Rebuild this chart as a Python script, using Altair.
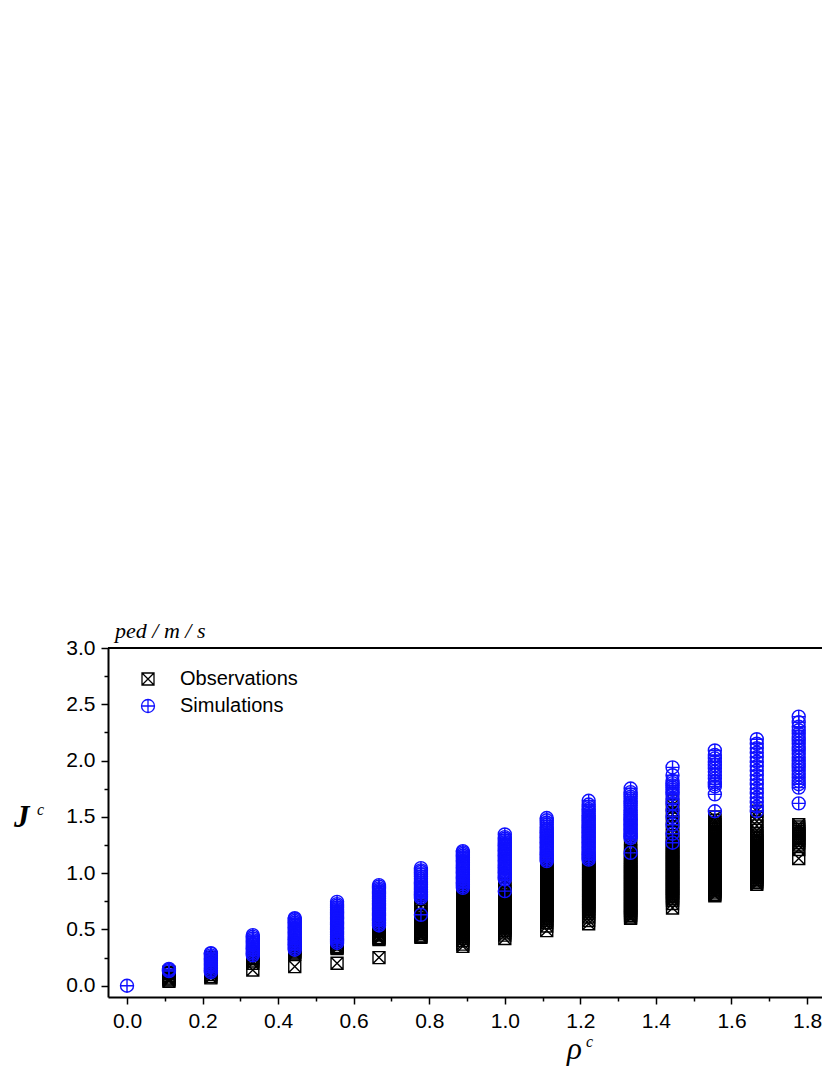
import altair as alt
import pandas as pd

# ---------------- data ----------------
rho = [0.0, 0.111, 0.222, 0.333, 0.444, 0.556, 0.667, 0.778, 0.889,
       1.0, 1.111, 1.222, 1.333, 1.444, 1.556, 1.667, 1.778]

obs_values = [
    [],
    [0.04, 0.05, 0.06, 0.07, 0.09, 0.11, 0.12],
    [0.07, 0.08, 0.10, 0.12, 0.14, 0.17, 0.20, 0.23, 0.25],
    [0.14, 0.20, 0.22, 0.24, 0.25, 0.27, 0.28, 0.30],
    [0.17, 0.28, 0.29, 0.30, 0.31, 0.33, 0.35, 0.38],
    [0.20, 0.33, 0.34, 0.35, 0.37, 0.40, 0.44, 0.48],
    [0.25, 0.41, 0.42, 0.43, 0.45, 0.46, 0.48, 0.49, 0.51, 0.52, 0.54, 0.57, 0.60],
    [0.43, 0.44, 0.45, 0.465, 0.48, 0.495, 0.51, 0.525, 0.54, 0.555, 0.57, 0.585, 0.60,
     0.615, 0.63, 0.66, 0.70, 0.74, 0.78],
    [0.35, 0.37, 0.40, 0.42, 0.435, 0.45, 0.465, 0.48, 0.495, 0.51, 0.525, 0.54, 0.555,
     0.57, 0.585, 0.60, 0.615, 0.63, 0.645, 0.66, 0.675, 0.69, 0.705, 0.72, 0.735, 0.75,
     0.765, 0.78, 0.795, 0.81, 0.825, 0.84, 0.855, 0.87, 0.90],
    [0.42, 0.45, 0.47, 0.49, 0.505, 0.52, 0.535, 0.55, 0.565, 0.58, 0.595, 0.61, 0.625,
     0.64, 0.655, 0.67, 0.685, 0.70, 0.715, 0.73, 0.745, 0.76, 0.775, 0.79, 0.805, 0.82,
     0.835, 0.86, 0.90, 0.94],
    [0.49, 0.53, 0.56, 0.58, 0.595, 0.61, 0.625, 0.64, 0.655, 0.67, 0.685, 0.70, 0.715,
     0.73, 0.745, 0.76, 0.775, 0.79, 0.805, 0.82, 0.835, 0.85, 0.865, 0.88, 0.895, 0.91,
     0.925, 0.94, 0.955, 0.97, 0.985, 1.00, 1.015, 1.03, 1.045, 1.06, 1.08, 1.10],
    [0.55, 0.58, 0.61, 0.64, 0.66, 0.675, 0.69, 0.705, 0.72, 0.735, 0.75, 0.765, 0.78,
     0.795, 0.81, 0.825, 0.84, 0.855, 0.87, 0.885, 0.90, 0.915, 0.93, 0.945, 0.96, 0.975,
     0.99, 1.005, 1.02, 1.035, 1.05, 1.065, 1.08, 1.095, 1.11, 1.13],
    [0.60, 0.61, 0.625, 0.64, 0.655, 0.67, 0.685, 0.70, 0.715, 0.73, 0.745, 0.76, 0.775,
     0.79, 0.805, 0.82, 0.835, 0.85, 0.865, 0.88, 0.895, 0.91, 0.925, 0.94, 0.955, 0.97,
     0.985, 1.00, 1.015, 1.03, 1.045, 1.06, 1.075, 1.09, 1.105, 1.12, 1.14, 1.16, 1.18,
     1.20, 1.25, 1.30],
    [0.69, 0.73, 0.76, 0.775, 0.79, 0.805, 0.82, 0.835, 0.85, 0.865, 0.88, 0.895, 0.91,
     0.925, 0.94, 0.955, 0.97, 0.985, 1.00, 1.015, 1.03, 1.045, 1.06, 1.075, 1.09, 1.105,
     1.12, 1.135, 1.15, 1.165, 1.18, 1.195, 1.21, 1.225, 1.24, 1.26, 1.28, 1.30, 1.33,
     1.36, 1.40, 1.44, 1.48, 1.52, 1.56, 1.60, 1.64],
    [0.80, 0.81, 0.825, 0.84, 0.855, 0.87, 0.885, 0.90, 0.915, 0.93, 0.945, 0.96, 0.975,
     0.99, 1.005, 1.02, 1.035, 1.05, 1.065, 1.08, 1.095, 1.11, 1.125, 1.14, 1.155, 1.17,
     1.185, 1.20, 1.215, 1.23, 1.245, 1.26, 1.275, 1.29, 1.305, 1.32, 1.335, 1.35, 1.37,
     1.39, 1.41, 1.43, 1.45, 1.47, 1.50],
    [0.90, 0.915, 0.93, 0.945, 0.96, 0.975, 0.99, 1.005, 1.02, 1.035, 1.05, 1.065, 1.08,
     1.095, 1.11, 1.125, 1.14, 1.155, 1.17, 1.185, 1.20, 1.215, 1.23, 1.245, 1.26, 1.275,
     1.29, 1.31, 1.33, 1.35, 1.38, 1.42, 1.46, 1.50, 1.55],
    [1.13, 1.21, 1.25, 1.27, 1.29, 1.31, 1.33, 1.35, 1.37, 1.39, 1.41, 1.43],
]

sim_values = [
    [0.0],
    [0.13, 0.14, 0.15],
    [0.12, 0.135, 0.15, 0.165, 0.18, 0.195, 0.21, 0.225, 0.24, 0.255, 0.27, 0.285, 0.29],
    [0.27, 0.285, 0.30, 0.315, 0.33, 0.345, 0.36, 0.375, 0.39, 0.405, 0.42, 0.435, 0.45],
    [0.32, 0.335, 0.35, 0.365, 0.38, 0.395, 0.41, 0.425, 0.44, 0.455, 0.47, 0.485, 0.50,
     0.515, 0.53, 0.545, 0.56, 0.575, 0.59, 0.60],
    [0.38, 0.395, 0.41, 0.425, 0.44, 0.455, 0.47, 0.485, 0.50, 0.515, 0.53, 0.545, 0.56,
     0.575, 0.59, 0.605, 0.62, 0.635, 0.65, 0.665, 0.68, 0.695, 0.71, 0.725, 0.745],
    [0.535, 0.55, 0.565, 0.58, 0.595, 0.61, 0.625, 0.64, 0.655, 0.67, 0.685, 0.70, 0.715,
     0.73, 0.745, 0.76, 0.775, 0.79, 0.805, 0.82, 0.835, 0.85, 0.865, 0.88, 0.894],
    [0.63, 0.78, 0.795, 0.81, 0.825, 0.84, 0.855, 0.87, 0.885, 0.90, 0.915, 0.93, 0.95,
     0.97, 0.99, 1.01, 1.025, 1.045],
    [0.87, 0.885, 0.90, 0.915, 0.93, 0.945, 0.96, 0.975, 0.99, 1.005, 1.02, 1.035, 1.05,
     1.065, 1.08, 1.095, 1.11, 1.125, 1.14, 1.155, 1.17, 1.185, 1.196],
    [0.84, 0.945, 0.96, 0.975, 0.99, 1.005, 1.02, 1.035, 1.05, 1.065, 1.08, 1.095, 1.11,
     1.125, 1.14, 1.155, 1.17, 1.185, 1.20, 1.215, 1.23, 1.245, 1.26, 1.275, 1.29, 1.305,
     1.32, 1.344],
    [1.107, 1.12, 1.135, 1.15, 1.165, 1.18, 1.195, 1.21, 1.225, 1.24, 1.255, 1.27, 1.285,
     1.30, 1.315, 1.33, 1.345, 1.36, 1.375, 1.39, 1.41, 1.43, 1.45, 1.47, 1.49],
    [1.12, 1.135, 1.15, 1.165, 1.18, 1.195, 1.21, 1.225, 1.24, 1.255, 1.27, 1.285, 1.30,
     1.315, 1.33, 1.345, 1.36, 1.375, 1.39, 1.405, 1.42, 1.435, 1.45, 1.465, 1.48, 1.495,
     1.51, 1.53, 1.55, 1.57, 1.59, 1.61, 1.643],
    [1.18, 1.31, 1.325, 1.34, 1.355, 1.37, 1.385, 1.40, 1.415, 1.43, 1.445, 1.46, 1.475,
     1.49, 1.505, 1.52, 1.54, 1.56, 1.58, 1.60, 1.62, 1.64, 1.66, 1.68, 1.70, 1.72, 1.752],
    [1.27, 1.35, 1.43, 1.50, 1.56, 1.62, 1.66, 1.70, 1.72, 1.74, 1.76, 1.78, 1.80, 1.82,
     1.87, 1.94],
    [1.55, 1.70, 1.77, 1.79, 1.81, 1.84, 1.87, 1.90, 1.93, 1.96, 1.99, 2.02, 2.05, 2.09],
    [1.55, 1.59, 1.63, 1.67, 1.71, 1.75, 1.79, 1.83, 1.87, 1.91, 1.95, 1.99, 2.03,
     2.07, 2.11, 2.15, 2.19],
    [1.62, 1.76, 1.79, 1.82, 1.85, 1.88, 1.91, 1.94, 1.97, 2.00, 2.03, 2.06, 2.09,
     2.12, 2.15, 2.18, 2.21, 2.24, 2.27, 2.30, 2.34, 2.39],
]

series_names = ["Observations", "Simulations"]
x_ticks = [0.0, 0.1, 0.2, 0.3, 0.4, 0.5, 0.6, 0.7, 0.8, 0.9, 1.0,
           1.1, 1.2, 1.3, 1.4, 1.5, 1.6, 1.7, 1.8]
y_ticks = [0.0, 0.25, 0.5, 0.75, 1.0, 1.25, 1.5, 1.75, 2.0, 2.25, 2.5, 2.75, 3.0]

# ---------------- build table ----------------
rows = []
for x, vals in zip(rho, obs_values):
    for v in vals:
        rows.append({"rho": x, "J": v, "series": "Observations"})
for x, vals in zip(rho, sim_values):
    for v in vals:
        rows.append({"rho": x, "J": v, "series": "Simulations"})
df = pd.DataFrame(rows)

SQUARE_X = "M-1,-1L1,-1L1,1L-1,1Z M-1,-1L1,1 M1,-1L-1,1"
CIRCLE_PLUS = "M-1,0A1,1,0,1,1,1,0A1,1,0,1,1,-1,0Z M-1,0L1,0 M0,-1L0,1"
BLUE = "#1010ff"

W, H = 714, 349
X_MAX = (W - 19) / 377.8
SANS = "Liberation Sans"
SERIF = "Liberation Serif"

axis_common = dict(
    title=None, grid=False, domainColor="black", domainWidth=2,
    tickColor="black", tickWidth=1.5, labelFont=SANS, labelFontSize=21,
    labelColor="black", labelOverlap=False, labelFlush=False, labelPadding=6,
)

x_axis = alt.Axis(
    values=x_ticks,
    labelExpr="round(datum.value*10) % 2 == 0 ? format(datum.value, '.1f') : ''",
    tickSize={"condition": {"test": "round(datum.value*10) % 2 != 0", "value": 4}, "value": 7},
    **axis_common,
)
y_axis = alt.Axis(
    values=y_ticks,
    labelExpr="round(datum.value*4) % 2 == 0 ? format(datum.value, '.1f') : ''",
    tickSize={"condition": {"test": "round(datum.value*4) % 2 != 0", "value": 4}, "value": 7},
    **axis_common,
)

legend = alt.Legend(
    title=None, orient="none", legendX=30, legendY=21,
    labelFont=SANS, labelFontSize=20, labelColor="black",
    symbolSize=125, symbolStrokeWidth=1.3, labelOffset=22, rowPadding=7, padding=0,
)

points = alt.Chart(df).mark_point(filled=False, opacity=1, strokeWidth=1.4).encode(
    x=alt.X("rho:Q", scale=alt.Scale(domain=[-0.0503, X_MAX], nice=False, zero=False), axis=x_axis),
    y=alt.Y("J:Q", scale=alt.Scale(domain=[-0.1, 3.0], nice=False, zero=False), axis=y_axis),
    color=alt.Color("series:N", scale=alt.Scale(domain=series_names, range=["#000000", BLUE]),
                    legend=legend),
    shape=alt.Shape("series:N", scale=alt.Scale(domain=series_names, range=[SQUARE_X, CIRCLE_PLUS]),
                    legend=legend),
    size=alt.Size("series:N", scale=alt.Scale(domain=series_names, range=[144, 169]), legend=None),
)

top_border = alt.Chart(pd.DataFrame({"a": [0]})).mark_rule(color="black", strokeWidth=2).encode(
    x=alt.value(0), x2=alt.value(W + 10), y=alt.value(0)
)


def label(text, x, y, size, style="italic", weight="normal"):
    return alt.Chart(pd.DataFrame({"t": [text]})).mark_text(
        font=SERIF, fontSize=size, fontStyle=style, fontWeight=weight, align="left",
        baseline="alphabetic", color="black"
    ).encode(text="t:N", x=alt.value(x), y=alt.value(y))


unit_lbl = label("ped / m / s", 7, -10, 22)
j_lbl = label("J", -94, 179, 31, weight="bold")
jc_lbl = label("c", -71, 167, 16)
rho_lbl = label("ρ", 459, 411, 31)
rhoc_lbl = label("c", 478, 399, 16)

chart = alt.layer(points, top_border, unit_lbl, j_lbl, jc_lbl, rho_lbl, rhoc_lbl).properties(
    width=W, height=H,
    autosize=alt.AutoSizeParams(type="none"),
    padding={"left": 100, "top": 640, "right": 0, "bottom": 70},
    background="white",
).configure_view(stroke=None)

chart.save("out.html", embed_options={"renderer": "svg", "actions": False})
